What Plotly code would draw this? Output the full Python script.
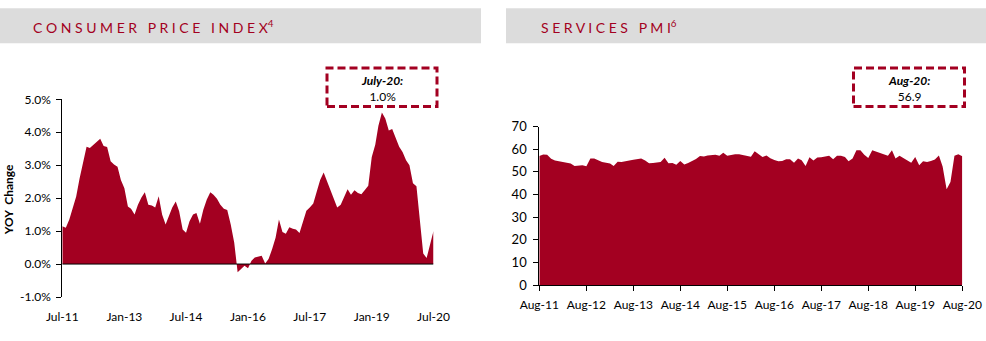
import pandas as pd
import plotly.graph_objects as go

W, H = 986, 341
RED = "#A30021"
GREY = "#DCDCDC"
FONT = "Lato"

# ---------------- data ----------------
cpi_start = "2011-07-01"
cpi_values = [
    1.15, 1.10, 1.35, 1.68, 2.05, 2.60, 3.10, 3.56, 3.52, 3.62,
    3.72, 3.80, 3.58, 3.55, 3.12, 3.02, 2.95, 2.55, 2.30, 1.75,
    1.68, 1.50, 1.80, 2.02, 2.18, 1.80, 1.78, 1.72, 2.06, 1.50,
    1.20, 1.48, 1.72, 1.90, 1.60, 1.05, 0.95, 1.30, 1.50, 1.55,
    1.22, 1.65, 1.96, 2.18, 2.10, 1.98, 1.80, 1.68, 1.64, 1.20,
    0.65, -0.25, -0.15, -0.05, -0.13, 0.10, 0.20, 0.23, 0.25, 0.02,
    0.15, 0.45, 0.80, 1.35, 0.97, 0.92, 1.12, 1.07, 1.05, 0.94,
    1.27, 1.62, 1.72, 1.84, 2.20, 2.55, 2.78, 2.50, 2.25, 1.95,
    1.72, 1.80, 2.05, 2.27, 2.10, 2.24, 2.16, 2.12, 2.25, 2.38,
    3.25, 3.62, 4.20, 4.60, 4.42, 4.05, 4.10, 3.80, 3.56, 3.40,
    3.15, 3.00, 2.45, 2.36, 1.28, 0.32, 0.18, 0.60, 1.00,
]
cpi_tick_dates = ["2011-07-01", "2013-01-01", "2014-07-01", "2016-01-01",
                  "2017-07-01", "2019-01-01", "2020-07-01"]
cpi_tick_labels = ["Jul-11", "Jan-13", "Jul-14", "Jan-16", "Jul-17", "Jan-19", "Jul-20"]
cpi_y_ticks = [-1, 0, 1, 2, 3, 4, 5]
cpi_y_labels = ["-1.0%", "0.0%", "1.0%", "2.0%", "3.0%", "4.0%", "5.0%"]

pmi_start = "2011-08-01"
pmi_values = [
    57.0, 57.7, 57.6, 55.8, 55.0, 54.7, 54.3, 54.0, 53.7, 52.6,
    52.9, 52.9, 52.5, 55.9, 55.9, 55.0, 54.4, 54.1, 53.7, 52.6,
    54.5, 54.4, 54.9, 55.1, 55.4, 55.6, 55.9, 55.0, 53.8, 54.0,
    54.2, 54.4, 56.3, 53.8, 53.9, 53.2, 54.8, 53.3, 54.0, 54.8,
    55.7, 57.0, 56.8, 57.3, 57.5, 57.6, 57.2, 58.5, 57.1, 57.6,
    57.8, 57.8, 57.5, 57.0, 56.7, 59.1, 58.0, 56.6, 57.3, 56.0,
    55.3, 54.7, 54.8, 55.6, 55.6, 54.1, 55.9, 55.2, 52.6, 56.5,
    55.1, 56.4, 56.5, 56.7, 57.1, 55.6, 57.1, 57.1, 56.6, 54.7,
    55.9, 59.6, 59.6, 57.6, 56.2, 59.6, 59.0, 58.5, 58.0, 57.1,
    59.6, 55.9, 57.1, 56.2, 55.1, 54.1, 56.6, 52.9, 54.7, 54.4,
    54.8, 55.5, 57.3, 52.4, 42.3, 45.5, 57.1, 57.8, 56.9,
]
pmi_tick_dates = [f"20{y}-08-01" for y in range(11, 21)]
pmi_tick_labels = [f"Aug-{y}" for y in range(11, 21)]
pmi_y_ticks = [0, 10, 20, 30, 40, 50, 60, 70]

cpi_dates = pd.date_range(cpi_start, periods=len(cpi_values), freq="MS")
pmi_dates = pd.date_range(pmi_start, periods=len(pmi_values), freq="MS")


def px(x):
    return x / W


def py(y):
    return 1 - y / H


fig = go.Figure()
fig.add_trace(go.Scatter(x=cpi_dates, y=cpi_values, mode="lines", fill="tozeroy",
                         line=dict(width=0, color=RED), fillcolor=RED,
                         xaxis="x", yaxis="y", hoverinfo="skip", showlegend=False))
fig.add_trace(go.Scatter(x=pmi_dates, y=pmi_values, mode="lines", fill="tozeroy",
                         line=dict(width=0, color=RED), fillcolor=RED,
                         xaxis="x2", yaxis="y2", hoverinfo="skip", showlegend=False))

tickfont = dict(family=FONT, size=12, color="#000000")

fig.update_layout(
    width=W, height=H,
    margin=dict(l=0, r=0, t=0, b=0, pad=0, autoexpand=False),
    paper_bgcolor="white", plot_bgcolor="rgba(0,0,0,0)",
    xaxis=dict(domain=[px(62.3), px(433.5)], anchor="y", type="date",
               range=[cpi_dates[0], cpi_dates[-1]],
               tickvals=cpi_tick_dates, ticktext=cpi_tick_labels,
               showgrid=False, zeroline=False, showline=False, ticks="",
               ticklabelstandoff=11, tickfont=tickfont, automargin=False),
    yaxis=dict(domain=[py(297.0), py(99.3)], anchor="x", range=[-1, 5],
               tickvals=cpi_y_ticks, ticktext=cpi_y_labels,
               showgrid=False, zeroline=False, showline=True, linecolor="black",
               linewidth=1, ticks="outside", ticklen=5, tickcolor="black",
               ticklabelstandoff=3, tickfont=tickfont, automargin=False),
    xaxis2=dict(domain=[px(539.3), px(962.3)], anchor="y2", type="date",
                range=[pmi_dates[0], pmi_dates[-1]],
                tickvals=pmi_tick_dates, ticktext=pmi_tick_labels,
                showgrid=False, zeroline=False, showline=True, linecolor="black",
                linewidth=1, ticks="outside", ticklen=5, tickcolor="black",
                ticklabelstandoff=4,
                tickfont=dict(family=FONT, size=12, color="#000000"), automargin=False),
    yaxis2=dict(domain=[py(285.0), py(126.7)], anchor="x2", range=[0, 70],
                tickvals=pmi_y_ticks,
                showgrid=False, zeroline=False, showline=True, linecolor="black",
                linewidth=1, ticks="outside", ticklen=5, tickcolor="black",
                ticklabelstandoff=4,
                tickfont=dict(family=FONT, size=13, color="#000000"), automargin=False),
)

shapes = [
    dict(type="rect", xref="paper", yref="paper", x0=px(0), x1=px(481),
         y0=py(43.3), y1=py(8.3), fillcolor=GREY, line=dict(width=0), layer="below"),
    dict(type="rect", xref="paper", yref="paper", x0=px(506), x1=px(986),
         y0=py(43.3), y1=py(8.3), fillcolor=GREY, line=dict(width=0), layer="below"),
    dict(type="line", xref="x", yref="y", x0=cpi_dates[0], x1=cpi_dates[-1],
         y0=0, y1=0, line=dict(color="black", width=1), layer="above"),
    dict(type="rect", xref="paper", yref="paper", x0=px(327), x1=px(437),
         y0=py(106.5), y1=py(68), line=dict(color=RED, width=3, dash="8px,4px"),
         fillcolor="rgba(0,0,0,0)"),
    dict(type="rect", xref="paper", yref="paper", x0=px(853.5), x1=px(964.5),
         y0=py(106.5), y1=py(68), line=dict(color=RED, width=3, dash="8px,4px"),
         fillcolor="rgba(0,0,0,0)"),
]
fig.update_layout(shapes=shapes)

annotations = [
    dict(text="C O N S U M E R \u00a0 P R I C E \u00a0 I N D E X<sup>4</sup>",
         xref="paper", yref="paper", x=px(31), y=py(26), xanchor="left", yanchor="middle",
         showarrow=False, font=dict(family=FONT, size=14, color=RED)),
    dict(text="S E R V I C E S \u00a0 P M I<sup>6</sup>",
         xref="paper", yref="paper", x=px(538.5), y=py(26), xanchor="left", yanchor="middle",
         showarrow=False, font=dict(family=FONT, size=14, color=RED)),
    dict(text="<b>YOY  Change</b>", textangle=-90, xref="paper", yref="paper",
         x=px(8.3), y=py(200), xanchor="center", yanchor="middle", showarrow=False,
         font=dict(family=FONT, size=12, color="#000000")),
    dict(text="<b><i>July-20:</i></b><br>1.0%", xref="paper", yref="paper",
         x=px(382), y=py(88.5), xanchor="center", yanchor="middle", showarrow=False,
         align="center", font=dict(family=FONT, size=12, color="#000000")),
    dict(text="<b><i>Aug-20:</i></b><br>56.9", xref="paper", yref="paper",
         x=px(909), y=py(88.5), xanchor="center", yanchor="middle", showarrow=False,
         align="center", font=dict(family=FONT, size=12, color="#000000")),
]
fig.update_layout(annotations=annotations)

fig.write_html("out.html")
